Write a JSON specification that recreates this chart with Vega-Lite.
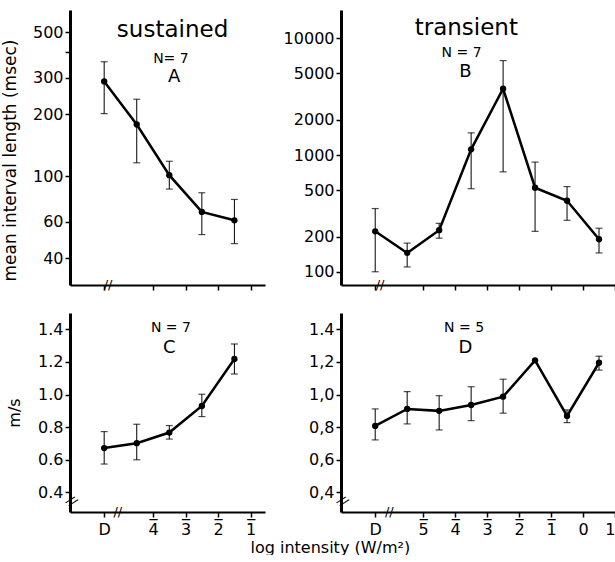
{
  "$schema": "https://vega.github.io/schema/vega-lite/v6.json",
  "padding": {"left": 1, "top": 10, "right": 0, "bottom": 0},
  "background": "white",
  "datasets": {
    "A": [
      {"x": -5.5, "y": 288, "lo": 201, "hi": 359},
      {"x": -4.5, "y": 178, "lo": 116, "hi": 236},
      {"x": -3.5, "y": 101, "lo": 86.5, "hi": 118},
      {"x": -2.5, "y": 67, "lo": 52, "hi": 83},
      {"x": -1.5, "y": 61, "lo": 47, "hi": 77}
    ],
    "B": [
      {"x": -6.5, "y": 222, "lo": 100, "hi": 348},
      {"x": -5.5, "y": 145, "lo": 110, "hi": 176},
      {"x": -4.5, "y": 227, "lo": 194, "hi": 260},
      {"x": -3.5, "y": 1120, "lo": 515, "hi": 1550},
      {"x": -2.5, "y": 3700, "lo": 718, "hi": 6450},
      {"x": -1.5, "y": 525, "lo": 222, "hi": 870},
      {"x": -0.5, "y": 406, "lo": 276, "hi": 537},
      {"x": 0.5, "y": 190, "lo": 145, "hi": 236}
    ],
    "C": [
      {"x": -5.5, "y": 0.672, "lo": 0.574, "hi": 0.773},
      {"x": -4.5, "y": 0.702, "lo": 0.6, "hi": 0.818},
      {"x": -3.5, "y": 0.767, "lo": 0.727, "hi": 0.81},
      {"x": -2.5, "y": 0.93, "lo": 0.865, "hi": 1.002},
      {"x": -1.5, "y": 1.218, "lo": 1.126, "hi": 1.31}
    ],
    "D": [
      {"x": -6.5, "y": 0.808, "lo": 0.722, "hi": 0.912},
      {"x": -5.5, "y": 0.912, "lo": 0.82, "hi": 1.018},
      {"x": -4.5, "y": 0.9, "lo": 0.783, "hi": 0.993},
      {"x": -3.5, "y": 0.936, "lo": 0.84, "hi": 1.048},
      {"x": -2.5, "y": 0.987, "lo": 0.886, "hi": 1.094},
      {"x": -1.5, "y": 1.21},
      {"x": -0.5, "y": 0.869, "lo": 0.828, "hi": 0.906},
      {"x": 0.5, "y": 1.195, "lo": 1.15, "hi": 1.235}
    ]
  },
  "columns": 2,
  "bounds": "flush",
  "align": "each",
  "spacing": {"row": 28, "column": 76},
  "concat": [
    {
      "width": 195, "height": 275,
      "data": {"name": "A"},
      "encoding": {
        "x": {"field": "x", "type": "quantitative", "scale": {"domain": [-6.55, -0.56], "nice": false, "zero": false},
              "axis": {"values": [-5.5, -4, -3, -2, -1], "labels": false, "title": null}},
        "y": {"field": "y", "type": "quantitative", "scale": {"type": "log", "domain": [29.6, 640], "nice": false},
              "axis": {"values": [40, 60, 100, 200, 300, 400, 500], "format": "d", "labelExpr": "datum.value == 400 ? '' : datum.label", "title": "mean interval length (msec)", "titleFontSize": 17, "titlePadding": 13, "titleY": 150}}
      },
      "layer": [
        {"mark": {"type": "rule", "color": "black", "strokeWidth": 1}, "encoding": {"y": {"field": "lo", "type": "quantitative"}, "y2": {"field": "hi"}}},
        {"mark": {"type": "tick", "orient": "horizontal", "size": 7, "thickness": 1.2, "color": "black"}, "encoding": {"y": {"field": "lo", "type": "quantitative"}}},
        {"mark": {"type": "tick", "orient": "horizontal", "size": 7, "thickness": 1.2, "color": "black"}, "encoding": {"y": {"field": "hi", "type": "quantitative"}}},
        {"mark": {"type": "line", "color": "black", "strokeWidth": 2.5}},
        {"mark": {"type": "point", "filled": true, "color": "black", "size": 40, "opacity": 1}},
        {"transform": [{"filter": "datum.x == -1.5"}], "mark": {"type": "text", "text": "sustained", "fontSize": 23, "color": "black"}, "encoding": {"x": {"datum": -3.4, "type": "quantitative"}, "y": {"datum": 512, "type": "quantitative"}}},
        {"transform": [{"filter": "datum.x == -1.5"}], "mark": {"type": "text", "text": "N= 7", "fontSize": 14, "color": "black"}, "encoding": {"x": {"datum": -3.45, "type": "quantitative"}, "y": {"datum": 370, "type": "quantitative"}}},
        {"transform": [{"filter": "datum.x == -1.5"}], "mark": {"type": "text", "text": "A", "fontSize": 18, "color": "black"}, "encoding": {"x": {"datum": -3.35, "type": "quantitative"}, "y": {"datum": 302, "type": "quantitative"}}},
        {"transform": [{"filter": "datum.x == -1.5"}], "mark": {"type": "text", "text": "//", "fontSize": 13, "color": "black"}, "encoding": {"x": {"datum": -5.38, "type": "quantitative"}, "y": {"datum": 29.6, "type": "quantitative"}}}
      ]
    },
    {
      "width": 274, "height": 275,
      "data": {"name": "B"},
      "encoding": {
        "x": {"field": "x", "type": "quantitative", "scale": {"domain": [-7.57, 1.0], "nice": false, "zero": false},
              "axis": {"values": [-6.5, -5, -4, -3, -2, -1, 0, 1], "labels": false, "title": null}},
        "y": {"field": "y", "type": "quantitative", "scale": {"type": "log", "domain": [77, 17500], "nice": false},
              "axis": {"values": [100, 200, 500, 1000, 2000, 5000, 10000], "format": "d", "title": null}}
      },
      "layer": [
        {"mark": {"type": "rule", "color": "black", "strokeWidth": 1}, "encoding": {"y": {"field": "lo", "type": "quantitative"}, "y2": {"field": "hi"}}},
        {"mark": {"type": "tick", "orient": "horizontal", "size": 7, "thickness": 1.2, "color": "black"}, "encoding": {"y": {"field": "lo", "type": "quantitative"}}},
        {"mark": {"type": "tick", "orient": "horizontal", "size": 7, "thickness": 1.2, "color": "black"}, "encoding": {"y": {"field": "hi", "type": "quantitative"}}},
        {"mark": {"type": "line", "color": "black", "strokeWidth": 2.5}},
        {"mark": {"type": "point", "filled": true, "color": "black", "size": 40, "opacity": 1}},
        {"transform": [{"filter": "datum.x == -1.5"}], "mark": {"type": "text", "text": "transient", "fontSize": 23, "color": "black"}, "encoding": {"x": {"datum": -3.65, "type": "quantitative"}, "y": {"datum": 12250, "type": "quantitative"}}},
        {"transform": [{"filter": "datum.x == -1.5"}], "mark": {"type": "text", "text": "N = 7", "fontSize": 14, "color": "black"}, "encoding": {"x": {"datum": -3.8, "type": "quantitative"}, "y": {"datum": 7480, "type": "quantitative"}}},
        {"transform": [{"filter": "datum.x == -1.5"}], "mark": {"type": "text", "text": "B", "fontSize": 18, "color": "black"}, "encoding": {"x": {"datum": -3.68, "type": "quantitative"}, "y": {"datum": 5150, "type": "quantitative"}}},
        {"transform": [{"filter": "datum.x == -1.5"}], "mark": {"type": "text", "text": "//", "fontSize": 13, "color": "black"}, "encoding": {"x": {"datum": -6.35, "type": "quantitative"}, "y": {"datum": 77, "type": "quantitative"}}}
      ]
    },
    {
      "width": 195, "height": 199,
      "data": {"name": "C"},
      "encoding": {
        "x": {"field": "x", "type": "quantitative", "scale": {"domain": [-6.55, -0.56], "nice": false, "zero": false},
              "axis": {"values": [-5.5, -4, -3, -2, -1], "labelExpr": "datum.value < -5 ? [' ', 'D'] : datum.value < 0 ? ['_', format(-datum.value, 'd')] : [' ', format(datum.value, 'd')]", "labelLineHeight": 19, "labelPadding": -15, "title": null}},
        "y": {"field": "y", "type": "quantitative", "scale": {"domain": [0.28, 1.5], "nice": false, "zero": false},
              "axis": {"values": [0.4, 0.6, 0.8, 1.0, 1.2, 1.4], "format": ".1f", "title": "m/s", "titlePadding": 15}}
      },
      "layer": [
        {"mark": {"type": "rule", "color": "black", "strokeWidth": 1}, "encoding": {"y": {"field": "lo", "type": "quantitative"}, "y2": {"field": "hi"}}},
        {"mark": {"type": "tick", "orient": "horizontal", "size": 7, "thickness": 1.2, "color": "black"}, "encoding": {"y": {"field": "lo", "type": "quantitative"}}},
        {"mark": {"type": "tick", "orient": "horizontal", "size": 7, "thickness": 1.2, "color": "black"}, "encoding": {"y": {"field": "hi", "type": "quantitative"}}},
        {"mark": {"type": "line", "color": "black", "strokeWidth": 2.5}},
        {"mark": {"type": "point", "filled": true, "color": "black", "size": 40, "opacity": 1}},
        {"transform": [{"filter": "datum.x == -1.5"}], "mark": {"type": "text", "text": "N = 7", "fontSize": 14, "color": "black"}, "encoding": {"x": {"datum": -3.45, "type": "quantitative"}, "y": {"datum": 1.41, "type": "quantitative"}}},
        {"transform": [{"filter": "datum.x == -1.5"}], "mark": {"type": "text", "text": "C", "fontSize": 18, "color": "black"}, "encoding": {"x": {"datum": -3.5, "type": "quantitative"}, "y": {"datum": 1.285, "type": "quantitative"}}},
        {"transform": [{"filter": "datum.x == -1.5"}], "mark": {"type": "text", "text": "//", "fontSize": 13, "color": "black"}, "encoding": {"x": {"datum": -5.08, "type": "quantitative"}, "y": {"datum": 0.28, "type": "quantitative"}}},
        {"transform": [{"filter": "datum.x == -1.5"}], "mark": {"type": "text", "text": "//", "fontSize": 13, "color": "black", "angle": 40}, "encoding": {"x": {"datum": -6.5, "type": "quantitative"}, "y": {"datum": 0.345, "type": "quantitative"}}}
      ]
    },
    {
      "width": 274, "height": 199,
      "data": {"name": "D"},
      "encoding": {
        "x": {"field": "x", "type": "quantitative", "scale": {"domain": [-7.57, 1.0], "nice": false, "zero": false},
              "axis": {"values": [-6.5, -5, -4, -3, -2, -1, 0, 1], "labelExpr": "datum.value < -6 ? [' ', 'D'] : datum.value < 0 ? ['_', format(-datum.value, 'd')] : [' ', format(datum.value, 'd')]", "labelLineHeight": 19, "labelPadding": -15, "labelFlush": true,
                       "title": "log intensity (W/m²)", "titleX": -91, "titleAlign": "left", "titleAnchor": "start", "titlePadding": 2}},
        "y": {"field": "y", "type": "quantitative", "scale": {"domain": [0.28, 1.5], "nice": false, "zero": false},
              "axis": {"values": [0.4, 0.6, 0.8, 1.0, 1.2, 1.4], "labelExpr": "datum.value > 1.3 ? '1.4' : replace(format(datum.value, '.1f'), '.', ',')", "title": null}}
      },
      "layer": [
        {"mark": {"type": "rule", "color": "black", "strokeWidth": 1}, "encoding": {"y": {"field": "lo", "type": "quantitative"}, "y2": {"field": "hi"}}},
        {"mark": {"type": "tick", "orient": "horizontal", "size": 7, "thickness": 1.2, "color": "black"}, "encoding": {"y": {"field": "lo", "type": "quantitative"}}},
        {"mark": {"type": "tick", "orient": "horizontal", "size": 7, "thickness": 1.2, "color": "black"}, "encoding": {"y": {"field": "hi", "type": "quantitative"}}},
        {"mark": {"type": "line", "color": "black", "strokeWidth": 2.5}},
        {"mark": {"type": "point", "filled": true, "color": "black", "size": 40, "opacity": 1}},
        {"transform": [{"filter": "datum.x == -1.5"}], "mark": {"type": "text", "text": "N = 5", "fontSize": 14, "color": "black"}, "encoding": {"x": {"datum": -3.72, "type": "quantitative"}, "y": {"datum": 1.41, "type": "quantitative"}}},
        {"transform": [{"filter": "datum.x == -1.5"}], "mark": {"type": "text", "text": "D", "fontSize": 18, "color": "black"}, "encoding": {"x": {"datum": -3.68, "type": "quantitative"}, "y": {"datum": 1.285, "type": "quantitative"}}},
        {"transform": [{"filter": "datum.x == -1.5"}], "mark": {"type": "text", "text": "//", "fontSize": 13, "color": "black"}, "encoding": {"x": {"datum": -6.06, "type": "quantitative"}, "y": {"datum": 0.28, "type": "quantitative"}}},
        {"transform": [{"filter": "datum.x == -1.5"}], "mark": {"type": "text", "text": "//", "fontSize": 13, "color": "black", "angle": 40}, "encoding": {"x": {"datum": -7.52, "type": "quantitative"}, "y": {"datum": 0.345, "type": "quantitative"}}}
      ]
    }
  ],
  "config": {
    "font": "DejaVu Sans",
    "view": {"stroke": null},
    "text": {"font": "DejaVu Sans"},
    "axis": {
      "grid": false, "domainColor": "black", "tickColor": "black", "labelColor": "black", "titleColor": "black",
      "labelFont": "DejaVu Sans", "titleFont": "DejaVu Sans", "labelFontSize": 16, "titleFontSize": 16,
      "titleFontWeight": "normal", "tickSize": 5, "tickWidth": 1.5, "labelPadding": 2
    },
    "axisY": {"domainWidth": 3},
    "axisX": {"domainWidth": 2}
  }
}
